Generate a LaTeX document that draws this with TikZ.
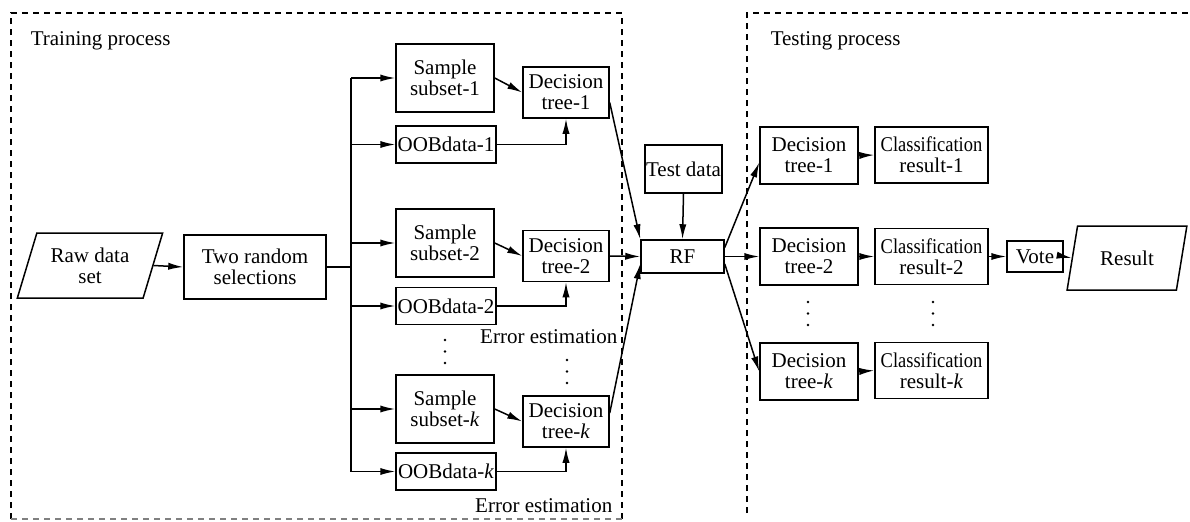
\documentclass[tikz,border=0pt]{standalone}
\usepackage{fontspec}
\setmainfont{Liberation Serif}
\usepackage{graphicx}
\usetikzlibrary{arrows.meta,shapes.geometric}

\tikzset{every picture/.style={line width=0.75pt}}
\tikzset{
  blk/.style={draw, align=center, inner sep=0pt, font=\fontsize{10.5}{10.5}\selectfont},
  io/.style={blk, trapezium, trapezium left angle=68, trapezium right angle=112, trapezium stretches=true},
  ssbox/.style={blk, minimum width=49pt, minimum height=34pt},
  oobbox/.style={blk, minimum width=50pt, minimum height=18.5pt},
  dtbox/.style={blk, minimum width=43pt, minimum height=25.5pt},
  tdtbox/.style={blk, minimum width=49pt, minimum height=28.5pt},
  crbox/.style={blk, minimum width=56.5pt, minimum height=28pt},
  txt/.style={inner sep=0pt, font=\fontsize{10.5}{10.5}\selectfont},
  arr/.style={-{Latex[length=7.5pt,width=3.6pt]}},
  frame/.style={dash pattern=on 3pt off 2.5pt, line width=1pt}
}
\newcommand{\clsname}{\scalebox{0.88}[1]{Classification}}

\begin{document}
\begin{tikzpicture}[x=0.5pt,y=0.5pt,yscale=-1,xscale=1]
\useasboundingbox (0,0) rectangle (1190,521);

%Dashed frames
\draw [frame] (11,519) -- (11,13) -- (622,13) -- (622,519) ;
\draw [frame, draw=gray, line width=0.6pt] (11,519) -- (622,519) ;
\draw [frame] (747,513) -- (747,13) -- (1190,13) ;

% Text Node
\draw (30,45) node [txt, anchor=base west] (trainlbl) {Training process};
% Text Node
\draw (770,45) node [txt, anchor=base west] (testlbl) {Testing process};

%Shape: Parallelogram
\draw (90,265.5) node [io, minimum width=73pt, minimum height=32.5pt] (raw) {Raw data\\set};
%Shape: Rectangle
\draw (255,267) node [blk, minimum width=71pt, minimum height=32pt] (sel) {Two random\\selections};

%Shape: Rectangle
\draw (445,78) node [ssbox] (ss1) {Sample\\subset-1};
\draw (446,144.5) node [oobbox] (oob1) {OOBdata-1};
\draw (566,92.5) node [dtbox] (dt1) {Decision\\tree-1};

%Shape: Rectangle
\draw (445,243) node [ssbox] (ss2) {Sample\\subset-2};
\draw (446,306) node [oobbox] (oob2) {OOBdata-2};
\draw (566,256) node [dtbox] (dt2) {Decision\\tree-2};

%Shape: Rectangle
\draw (445,409) node [ssbox] (ssk) {Sample\\subset-\textit{k}};
\draw (446,471.5) node [oobbox] (oobk) {OOBdata-\textit{k}};
\draw (566,421.5) node [dtbox] (dtk) {Decision\\tree-\textit{k}};

%Dots
\fill (445,340) circle (0.7pt) (445,351.5) circle (0.7pt) (445,363) circle (0.7pt) ;
\fill (567,360) circle (0.7pt) (567,371.5) circle (0.7pt) (567,383) circle (0.7pt) ;

% Text Node
\draw (618,343) node [txt, anchor=base east] (erra) {Error estimation};
\draw (613,512) node [txt, anchor=base east] (errb) {Error estimation};

%Shape: Rectangle
\draw (683.5,169) node [blk, minimum width=38.5pt, minimum height=24pt] (test) {Test data};
\draw (682.5,256.5) node [blk, minimum width=41.5pt, minimum height=16.5pt] (rf) {RF};

%Shape: Rectangle
\draw (809,155.5) node [tdtbox] (tdt1) {Decision\\tree-1};
\draw (931.5,155) node [crbox] (cr1) {\clsname\\result-1};
\draw (809,256.5) node [tdtbox] (tdt2) {Decision\\tree-2};
\draw (931.5,256.5) node [crbox] (cr2) {\clsname\\result-2};
\draw (809,371.5) node [tdtbox] (tdtk) {Decision\\tree-\textit{k}};
\draw (931.5,370.5) node [crbox] (crk) {\clsname\\result-\textit{k}};

%Dots
\fill (808,302) circle (0.7pt) (808,313.5) circle (0.7pt) (808,325) circle (0.7pt) ;
\fill (933,302) circle (0.7pt) (933,313.5) circle (0.7pt) (933,325) circle (0.7pt) ;

%Shape: Rectangle
\draw (1035,256.5) node [blk, minimum width=28pt, minimum height=15.5pt] (vote) {Vote};
%Shape: Parallelogram
\draw (1127,258) node [io, trapezium left angle=69, trapezium right angle=111, minimum width=60pt, minimum height=32pt] (res) {Result};

%Straight Lines
\coordinate (bus) at (351,267);
\draw [arr] (raw.east) -- (sel.west) ;
\draw (sel.east) -- (bus) ;
\draw (bus |- ss1.west) -- (bus |- oobk.west) ;
\draw [arr] (bus |- ss1.west) -- (ss1.west) ;
\draw [arr] (bus |- oob1.west) -- (oob1.west) ;
\draw [arr] (bus |- ss2.west) -- (ss2.west) ;
\draw [arr] (bus |- oob2.west) -- (oob2.west) ;
\draw [arr] (bus |- ssk.west) -- (ssk.west) ;
\draw [arr] (bus |- oobk.west) -- (oobk.west) ;

\draw [arr] (ss1.east) -- (dt1.west) ;
\draw [arr] (ss2.east) -- (dt2.west) ;
\draw [arr] (ssk.east) -- (dtk.west) ;
\draw [arr] (oob1.east) -| (dt1.south) ;
\draw [arr] (oob2.east) -| (dt2.south) ;
\draw [arr] (oobk.east) -| (dtk.south) ;

\draw [arr] (dt1.-13) -- (rf.north west) ;
\draw [arr] (dt2.east) -- (rf.west) ;
\draw [arr] (dtk.11) -- (rf.190) ;
\draw [arr] (test.south) -- (rf.north) ;

\draw [arr] (rf.12) -- (tdt1.188) ;
\draw [arr] (rf.east) -- (tdt2.west) ;
\draw [arr] (rf.-10) -- (tdtk.west) ;

\draw [arr] (tdt1.east) -- (cr1.west) ;
\draw [arr] (tdt2.east) -- (cr2.west) ;
\draw [arr] (tdtk.east) -- (crk.west) ;
\draw [arr] (cr2.east) -- (vote.west) ;
\draw [arr] (vote.east) -- (res.west) ;

\end{tikzpicture}
\end{document}
